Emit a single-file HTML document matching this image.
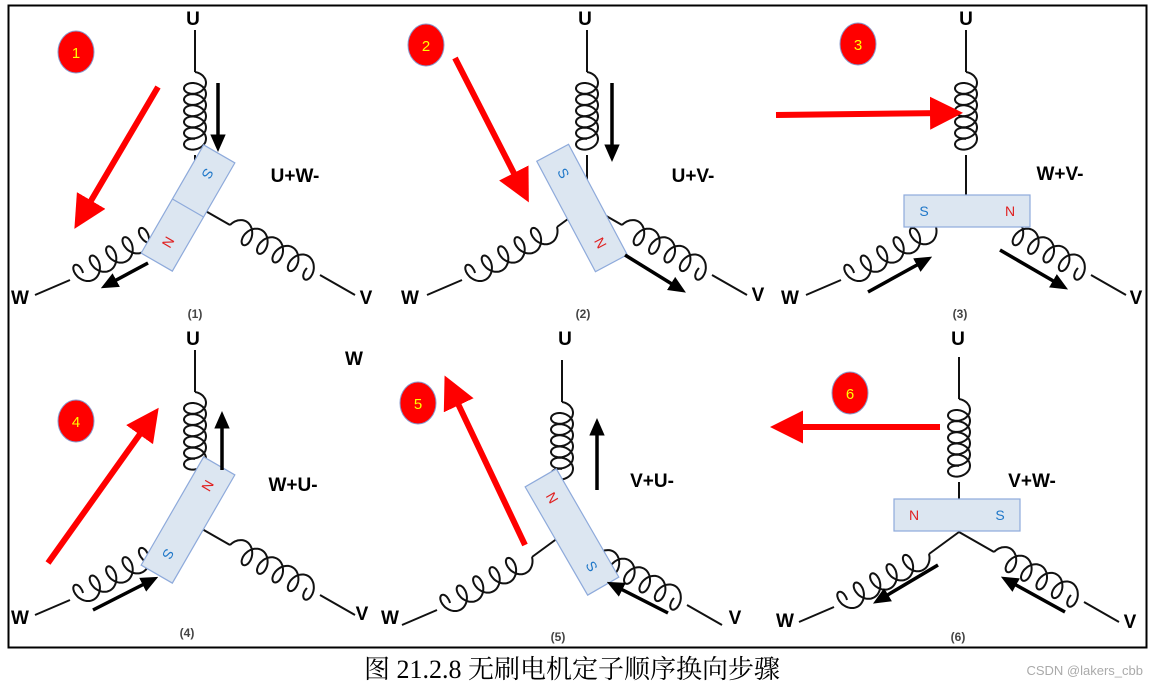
<!DOCTYPE html>
<html><head><meta charset="utf-8"><style>
html,body{margin:0;padding:0;background:#fff;width:1155px;height:686px;overflow:hidden}
svg{display:block}
.lbl{font-family:"Liberation Sans",sans-serif;font-weight:bold;font-size:19px;fill:#000}
.sub{font-family:"Liberation Sans",sans-serif;font-weight:bold;font-size:12px;fill:#444}
.num{font-family:"Liberation Sans",sans-serif;font-size:15px;fill:#ff0}
.pole{font-family:"Liberation Sans",sans-serif;font-size:14px}
</style></head><body>
<svg id="s" width="1155" height="686" xmlns="http://www.w3.org/2000/svg">
<rect x="8.5" y="5.5" width="1138" height="642" fill="none" stroke="#000" stroke-width="2"/>
<defs>
<marker id="rh" markerWidth="6" markerHeight="6" refX="3" refY="2.75" orient="auto" markerUnits="strokeWidth"><path d="M0,0 L5.5,2.75 L0,5.5 Z" fill="#f00"/></marker>
<marker id="bh" markerWidth="5" markerHeight="5" refX="3" refY="2.5" orient="auto" markerUnits="strokeWidth"><path d="M0,0.3 L5,2.5 L0,4.7 Z" fill="#000"/></marker>
</defs>
<g id="wires" fill="none" stroke="#111" stroke-width="2"></g>
<g id="mags"></g>
<g stroke="#f00" stroke-width="6" fill="none">
<line x1="158" y1="87" x2="82" y2="216" marker-end="url(#rh)"/>
<line x1="455" y1="58" x2="522" y2="189" marker-end="url(#rh)"/>
<line x1="776" y1="115" x2="948" y2="113" marker-end="url(#rh)"/>
<line x1="48" y1="563" x2="150" y2="420" marker-end="url(#rh)"/>
<line x1="525" y1="545" x2="451" y2="389" marker-end="url(#rh)"/>
<line x1="940" y1="427" x2="785" y2="427" marker-end="url(#rh)"/>
</g>
<g stroke="#000" stroke-width="3.5" fill="none">
<line x1="218" y1="83" x2="218" y2="145" marker-end="url(#bh)"/>
<line x1="148" y1="263" x2="107" y2="285" marker-end="url(#bh)"/>
<line x1="612" y1="83" x2="612" y2="155" marker-end="url(#bh)"/>
<line x1="625" y1="255" x2="680" y2="289" marker-end="url(#bh)"/>
<line x1="868" y1="292" x2="926" y2="260" marker-end="url(#bh)"/>
<line x1="1000" y1="250" x2="1062" y2="286" marker-end="url(#bh)"/>
<line x1="222" y1="470" x2="222" y2="418" marker-end="url(#bh)"/>
<line x1="93" y1="610" x2="152" y2="580" marker-end="url(#bh)"/>
<line x1="597" y1="490" x2="597" y2="425" marker-end="url(#bh)"/>
<line x1="668" y1="613" x2="613" y2="585" marker-end="url(#bh)"/>
<line x1="938" y1="565" x2="879" y2="600" marker-end="url(#bh)"/>
<line x1="1065" y1="612" x2="1007" y2="580" marker-end="url(#bh)"/>
</g>
<g fill="#f00" stroke="#8899cc" stroke-width="1">
<ellipse cx="76" cy="52" rx="18" ry="21"/><ellipse cx="426" cy="45" rx="18" ry="21"/><ellipse cx="858" cy="44" rx="18" ry="21"/>
<ellipse cx="76" cy="421" rx="18" ry="21"/><ellipse cx="418" cy="403" rx="18" ry="21"/><ellipse cx="850" cy="393" rx="18" ry="21"/>
</g>
<g class="num" text-anchor="middle">
<text x="76" y="58">1</text><text x="426" y="51">2</text><text x="858" y="50">3</text>
<text x="76" y="427">4</text><text x="418" y="409">5</text><text x="850" y="399">6</text>
</g>
<g class="lbl" text-anchor="middle">
<text x="193" y="25">U</text><text x="585" y="25">U</text><text x="966" y="25">U</text>
<text x="193" y="345">U</text><text x="565" y="345">U</text><text x="958" y="345">U</text>
<text x="20" y="304">W</text><text x="366" y="304">V</text>
<text x="410" y="304">W</text><text x="758" y="301">V</text>
<text x="790" y="304">W</text><text x="1136" y="304">V</text>
<text x="20" y="624">W</text><text x="362" y="620">V</text>
<text x="390" y="624">W</text><text x="735" y="624">V</text>
<text x="785" y="627">W</text><text x="1130" y="628">V</text>
<text x="354" y="365">W</text>
<text x="295" y="182">U+W-</text><text x="693" y="182">U+V-</text><text x="1060" y="180">W+V-</text>
<text x="293" y="491">W+U-</text><text x="652" y="487">V+U-</text><text x="1032" y="487">V+W-</text>
</g>
<g class="sub" text-anchor="middle">
<text x="195" y="318">(1)</text><text x="583" y="318">(2)</text><text x="960" y="318">(3)</text>
<text x="187" y="637">(4)</text><text x="558" y="641">(5)</text><text x="958" y="641">(6)</text>
</g>
<text x="572" y="678" text-anchor="middle" font-family="'Liberation Serif','Noto Serif CJK SC',serif" font-size="26" fill="#000">图 21.2.8 无刷电机定子顺序换向步骤</text>
<text x="1143" y="675" text-anchor="end" font-family="'Liberation Sans',sans-serif" font-size="13" fill="#aaa">CSDN @lakers_cbb</text>
</svg>
<script>
var NS="http://www.w3.org/2000/svg";
function coil(x1,y1,x2,y2,n,r,a){var dx=x2-x1,dy=y2-y1,L=Math.hypot(dx,dy),ux=dx/L,uy=dy/L,px=-uy,py=ux;
var d="",N=n*48;
for(var i=0;i<=N;i++){var t=i/N,th=2*Math.PI*n*t;
var pe=-r*Math.sin(th), al=t*L-a*Math.cos(th)+a;
var x=x1+ux*al+px*pe,y=y1+uy*al+py*pe;
d+=(i?"L":"M")+x.toFixed(1)+","+y.toFixed(1);}
return d;}
var W=document.getElementById("wires");
function path(d){var p=document.createElementNS(NS,"path");p.setAttribute("d",d);W.appendChild(p);}
function ln(a,b,c,d){path("M"+a+","+b+"L"+c+","+d);}
function star(cx,cy){
ln(cx,cy-175,cx,cy-133);path(coil(cx,cy-133,cx,cy-66,6,11,8));ln(cx,cy-50,cx,cy);
ln(cx,cy,cx-30,cy+22);path(coil(cx-30,cy+22,cx-112,cy+68,5,11,8));ln(cx-125,cy+75,cx-160,cy+90);
ln(cx,cy,cx+35,cy+20);path(coil(cx+35,cy+20,cx+112,cy+63,5,11,8));ln(cx+125,cy+70,cx+160,cy+90);}
star(195,205);star(587,205);star(966,205);star(195,525);star(562,535);star(959,532);
var M=document.getElementById("mags");
function mag(cx,cy,w,h,rot,p1,c1,p2,c2,div){var g=document.createElementNS(NS,"g");
g.setAttribute("transform","translate("+cx+","+cy+") rotate("+rot+")");
var s='<rect x="'+(-w/2)+'" y="'+(-h/2)+'" width="'+w+'" height="'+h+'" fill="#dce6f1" stroke="#8eaadb" stroke-width="1.2"/>';
if(div)s+='<line x1="'+(-w/2)+'" y1="0" x2="'+(w/2)+'" y2="0" stroke="#8eaadb" stroke-width="1.2"/>';
var hor=w>h;
if(hor){s+='<text class="pole" x="'+(-w/2+20)+'" y="5" text-anchor="middle" fill="'+c1+'">'+p1+'</text><text class="pole" x="'+(w/2-20)+'" y="5" text-anchor="middle" fill="'+c2+'">'+p2+'</text>';}
else{s+='<text class="pole" x="0" y="'+(-h/2+28)+'" text-anchor="middle" fill="'+c1+'" transform="rotate(90 0 '+(-h/2+23)+')">'+p1+'</text><text class="pole" x="0" y="'+(h/2-18)+'" text-anchor="middle" fill="'+c2+'" transform="rotate(90 0 '+(h/2-23)+')">'+p2+'</text>';}
g.innerHTML=s;M.appendChild(g);}
var B="#1f77c8",R="#e02020";
mag(188,208,36,125,30,"S",B,"N",R,true);
mag(582,208,36,125,-28,"S",B,"N",R,false);
mag(967,211,126,32,0,"S",B,"N",R,false);
mag(188,520,36,125,30,"N",R,"S",B,false);
mag(572,532,36,125,-30,"N",R,"S",B,false);
mag(957,515,126,32,0,"N",R,"S",B,false);
</script>
</body></html>
